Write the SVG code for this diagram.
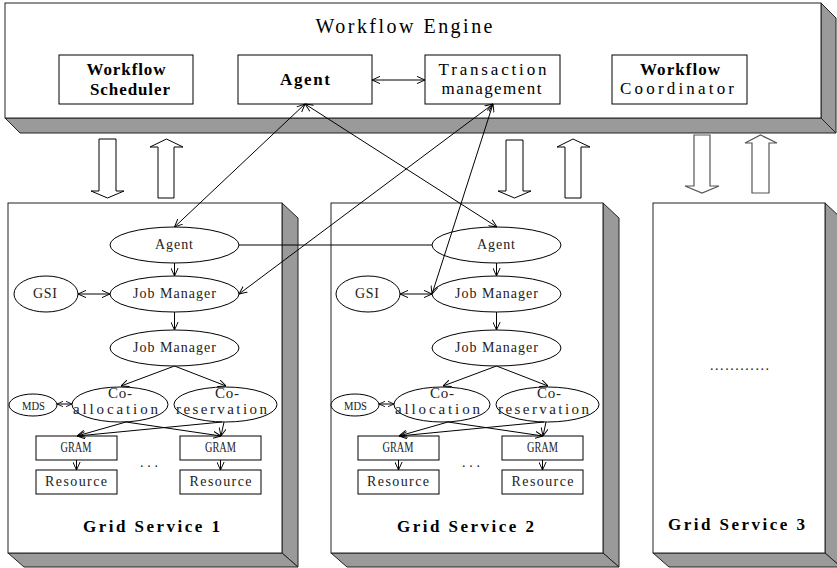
<svg xmlns="http://www.w3.org/2000/svg" width="837" height="568" viewBox="0 0 837 568">
  <style>
    .face { fill: #ffffff; stroke: #222; stroke-width: 1; }
    .side { fill: #9a9a9a; stroke: #222; stroke-width: 1; }
    .box { fill: #ffffff; stroke: #000; stroke-width: 1; }
    .node { fill: #ffffff; stroke: #000; stroke-width: 1; }
    .blk { fill: #ffffff; stroke: #000; stroke-width: 1; }
    .blk3 { fill: #ffffff; stroke: #555; stroke-width: 1.2; }
    .ln { fill: none; stroke: #000; stroke-width: 1; }
    .one { marker-end: url(#ah); }
    .two { marker-start: url(#ah); marker-end: url(#ah); }
    .two-s { marker-start: url(#ahs); marker-end: url(#ahs); }
    text { font-family: "Liberation Serif", "Times New Roman", serif; fill: #000; text-anchor: middle; }
    .title { font-size: 20px; }
    .lbl { font-size: 17px; }
    .b { font-weight: bold; }
    .in { font-size: 14px; fill: #222; }
    .co { font-size: 15px; fill: #222; }
    .gs { font-size: 17px; font-weight: bold; }
  </style>
  <defs>
    <marker id="ah" viewBox="0 0 10 10" refX="10" refY="5" markerWidth="8" markerHeight="8" markerUnits="userSpaceOnUse" orient="auto-start-reverse">
      <path d="M0,0.5 L10,5 L0,9.5" fill="none" stroke="#000" stroke-width="1.2"/>
    </marker>
    <marker id="ahs" viewBox="0 0 10 10" refX="10" refY="5" markerWidth="6" markerHeight="7" markerUnits="userSpaceOnUse" orient="auto-start-reverse">
      <path d="M0,0.5 L10,5 L0,9.5" fill="none" stroke="#000" stroke-width="1.4"/>
    </marker>
  </defs>

  <!-- Workflow engine slab -->
  <g id="workflow-engine">
    <polygon class="side" points="821,3 836,18 836,133 821,118"/>
    <polygon class="side" points="5,118 821,118 836,133 20,133"/>
    <rect class="face" x="5" y="3" width="816" height="115"/>
    <text class="title" x="404" y="33" textLength="177" lengthAdjust="spacing">Workflow Engine</text>
  </g>
  <g id="workflow-scheduler">
    <rect class="box" x="59" y="55" width="134" height="49"/>
    <text class="lbl b" x="126" y="75" textLength="79" lengthAdjust="spacing">Workflow</text>
    <text class="lbl b" x="130" y="95" textLength="80" lengthAdjust="spacing">Scheduler</text>
  </g>
  <g id="agent">
    <rect class="box" x="238" y="55" width="134" height="49"/>
    <text class="lbl b" x="305" y="85" textLength="50" lengthAdjust="spacing">Agent</text>
  </g>
  <g id="transaction-management">
    <rect class="box" x="425" y="55" width="135" height="49"/>
    <text class="lbl" x="492.5" y="75" textLength="108" lengthAdjust="spacing">Transaction</text>
    <text class="lbl" x="491.5" y="94" textLength="100" lengthAdjust="spacing">management</text>
  </g>
  <g id="workflow-coordinator">
    <rect class="box" x="612" y="55" width="135" height="49"/>
    <text class="lbl b" x="680" y="75" textLength="80" lengthAdjust="spacing">Workflow</text>
    <text class="lbl" x="677" y="94" textLength="114" lengthAdjust="spacing">Coordinator</text>
  </g>

  <!-- Request / response block arrows -->
  <g id="flow-arrows">
    <polygon class="blk" points="99,139 116,139 116,191 124,191 107.5,198 91,191 99,191"/>
    <polygon class="blk" points="158,198 174,198 174,147 183,147 166.5,139 150,147 158,147"/>
    <polygon class="blk" points="506,140 523,140 523,191 531,191 514.5,198 498,191 506,191"/>
    <polygon class="blk" points="565,198 581,198 581,147 590,147 573,139 557,147 565,147"/>
    <polygon class="blk3" points="694,135 710,135 710,186 719,186 702,193 685,186 694,186"/>
    <polygon class="blk3" points="752,193 769,193 769,143 777,143 760.5,135 745,143 752,143"/>
  </g>

  <!-- Grid service slabs -->
  <g id="grid-service-1">
    <polygon class="side" points="282,203 298,218 298,567 282,553"/>
    <polygon class="side" points="8,553 282,553 298,567 24,567"/>
    <rect class="face" x="8" y="203" width="274" height="350"/>
    <text class="gs" x="151.5" y="532" textLength="137" lengthAdjust="spacing">Grid Service 1</text>
  </g>
  <g id="grid-service-2">
    <polygon class="side" points="603,203 619,218 619,567 603,553"/>
    <polygon class="side" points="331,553 603,553 619,567 347,567"/>
    <rect class="face" x="331" y="203" width="272" height="350"/>
    <text class="gs" x="465.5" y="532" textLength="137" lengthAdjust="spacing">Grid Service 2</text>
  </g>
  <g id="grid-service-3">
    <polygon class="side" points="825,203 841,218 841,567 825,553"/>
    <polygon class="side" points="653,553 825,553 841,567 669,567"/>
    <rect class="face" x="653" y="203" width="172" height="350"/>
    <text class="in" x="739.5" y="370" textLength="59" lengthAdjust="spacing">............</text>
    <text class="gs" x="736.5" y="530" textLength="137" lengthAdjust="spacing">Grid Service 3</text>
  </g>

  <!-- Grid service 1 components -->
  <g id="gs1-agent"><ellipse class="node" cx="174.5" cy="245" rx="64.5" ry="18"/><text class="in" x="174" y="249" textLength="38" lengthAdjust="spacing">Agent</text></g>
  <g id="gs1-gsi"><ellipse class="node" cx="46" cy="294" rx="32" ry="18"/><text class="in" x="45" y="298" textLength="24" lengthAdjust="spacing">GSI</text></g>
  <g id="gs1-job-manager-1"><ellipse class="node" cx="174.5" cy="294" rx="64.5" ry="18"/><text class="in" x="174.5" y="298" textLength="83" lengthAdjust="spacing">Job Manager</text></g>
  <g id="gs1-job-manager-2"><ellipse class="node" cx="174.5" cy="348" rx="64.5" ry="18"/><text class="in" x="174.5" y="352" textLength="83" lengthAdjust="spacing">Job Manager</text></g>
  <g id="gs1-mds"><ellipse class="node" cx="33" cy="405" rx="24" ry="11"/><text class="in" x="33.5" y="409.5" style="font-size:13px" textLength="23" lengthAdjust="spacingAndGlyphs">MDS</text></g>
  <g id="gs1-co-allocation"><ellipse class="node" cx="120" cy="404.5" rx="48" ry="17.5"/><text class="co" x="120" y="398" textLength="24" lengthAdjust="spacing">Co-</text><text class="co" x="115.5" y="414" textLength="85" lengthAdjust="spacing">allocation</text></g>
  <g id="gs1-co-reservation"><ellipse class="node" cx="225.5" cy="404.5" rx="51.5" ry="17.5"/><text class="co" x="227" y="398" textLength="24" lengthAdjust="spacing">Co-</text><text class="co" x="221.5" y="414" textLength="91" lengthAdjust="spacing">reservation</text></g>
  <g id="gs1-gram-1"><rect class="box" x="36" y="436" width="81" height="24"/><text class="in" x="76" y="452" textLength="31" lengthAdjust="spacingAndGlyphs">GRAM</text></g>
  <g id="gs1-gram-2"><rect class="box" x="180" y="436" width="81" height="24"/><text class="in" x="220.5" y="452" textLength="31" lengthAdjust="spacingAndGlyphs">GRAM</text></g>
  <g id="gs1-resource-1"><rect class="box" x="36" y="470" width="81" height="24"/><text class="in" x="76" y="486" textLength="62" lengthAdjust="spacing">Resource</text></g>
  <g id="gs1-resource-2"><rect class="box" x="180" y="470" width="81" height="24"/><text class="in" x="220.5" y="486" textLength="62" lengthAdjust="spacing">Resource</text></g>
  <text class="in" x="149" y="467" textLength="18" lengthAdjust="spacing">...</text>

  <!-- Grid service 2 components -->
  <g id="gs2-agent"><ellipse class="node" cx="496.5" cy="245" rx="64.5" ry="18"/><text class="in" x="496" y="249" textLength="38" lengthAdjust="spacing">Agent</text></g>
  <g id="gs2-gsi"><ellipse class="node" cx="368" cy="294" rx="32" ry="18"/><text class="in" x="367" y="298" textLength="24" lengthAdjust="spacing">GSI</text></g>
  <g id="gs2-job-manager-1"><ellipse class="node" cx="496.5" cy="294" rx="64.5" ry="18"/><text class="in" x="496.5" y="298" textLength="83" lengthAdjust="spacing">Job Manager</text></g>
  <g id="gs2-job-manager-2"><ellipse class="node" cx="496.5" cy="348" rx="64.5" ry="18"/><text class="in" x="496.5" y="352" textLength="83" lengthAdjust="spacing">Job Manager</text></g>
  <g id="gs2-mds"><ellipse class="node" cx="355" cy="405" rx="24" ry="11"/><text class="in" x="355.5" y="409.5" style="font-size:13px" textLength="23" lengthAdjust="spacingAndGlyphs">MDS</text></g>
  <g id="gs2-co-allocation"><ellipse class="node" cx="442" cy="404.5" rx="48" ry="17.5"/><text class="co" x="442" y="398" textLength="24" lengthAdjust="spacing">Co-</text><text class="co" x="437.5" y="414" textLength="85" lengthAdjust="spacing">allocation</text></g>
  <g id="gs2-co-reservation"><ellipse class="node" cx="547.5" cy="404.5" rx="51.5" ry="17.5"/><text class="co" x="549" y="398" textLength="24" lengthAdjust="spacing">Co-</text><text class="co" x="543.5" y="414" textLength="91" lengthAdjust="spacing">reservation</text></g>
  <g id="gs2-gram-1"><rect class="box" x="358" y="436" width="81" height="24"/><text class="in" x="398" y="452" textLength="31" lengthAdjust="spacingAndGlyphs">GRAM</text></g>
  <g id="gs2-gram-2"><rect class="box" x="502" y="436" width="81" height="24"/><text class="in" x="542.5" y="452" textLength="31" lengthAdjust="spacingAndGlyphs">GRAM</text></g>
  <g id="gs2-resource-1"><rect class="box" x="358" y="470" width="81" height="24"/><text class="in" x="398" y="486" textLength="62" lengthAdjust="spacing">Resource</text></g>
  <g id="gs2-resource-2"><rect class="box" x="502" y="470" width="81" height="24"/><text class="in" x="542.5" y="486" textLength="62" lengthAdjust="spacing">Resource</text></g>
  <text class="in" x="471" y="467" textLength="18" lengthAdjust="spacing">...</text>

  <!-- Connectors -->
  <g id="connectors">
    <line class="ln two" x1="372" y1="80" x2="425" y2="80"/>
    <line class="ln two" x1="305" y1="104" x2="174.5" y2="227"/>
    <line class="ln two" x1="305" y1="104" x2="497" y2="227"/>
    <line class="ln two" x1="493" y1="104" x2="239" y2="294"/>
    <line class="ln two" x1="493" y1="104" x2="432" y2="294"/>
    <line class="ln" x1="239" y1="245" x2="432" y2="245"/>

    <line class="ln one" x1="174.5" y1="263" x2="174.5" y2="276"/>
    <line class="ln one" x1="174.5" y1="312" x2="174.5" y2="330"/>
    <line class="ln two" x1="78" y1="294" x2="110" y2="294"/>
    <line class="ln one" x1="174.5" y1="366" x2="121" y2="386"/>
    <line class="ln one" x1="174.5" y1="366" x2="226" y2="386"/>
    <line class="ln two-s" x1="57" y1="404" x2="72" y2="404"/>
    <line class="ln one" x1="126" y1="422" x2="77" y2="436"/>
    <line class="ln one" x1="126" y1="422" x2="221" y2="436"/>
    <line class="ln one" x1="222" y1="422" x2="77" y2="436"/>
    <line class="ln one" x1="224" y1="422" x2="221" y2="436"/>
    <line class="ln one" x1="76.5" y1="460" x2="76.5" y2="470"/>
    <line class="ln one" x1="220.5" y1="460" x2="220.5" y2="470"/>

    <line class="ln one" x1="496.5" y1="263" x2="496.5" y2="276"/>
    <line class="ln one" x1="496.5" y1="312" x2="496.5" y2="330"/>
    <line class="ln two" x1="400" y1="294" x2="432" y2="294"/>
    <line class="ln one" x1="496.5" y1="366" x2="443" y2="386"/>
    <line class="ln one" x1="496.5" y1="366" x2="548" y2="386"/>
    <line class="ln two-s" x1="379" y1="404" x2="394" y2="404"/>
    <line class="ln one" x1="448" y1="422" x2="399" y2="436"/>
    <line class="ln one" x1="448" y1="422" x2="543" y2="436"/>
    <line class="ln one" x1="544" y1="422" x2="399" y2="436"/>
    <line class="ln one" x1="546" y1="422" x2="543" y2="436"/>
    <line class="ln one" x1="398.5" y1="460" x2="398.5" y2="470"/>
    <line class="ln one" x1="542.5" y1="460" x2="542.5" y2="470"/>
  </g>
</svg>
